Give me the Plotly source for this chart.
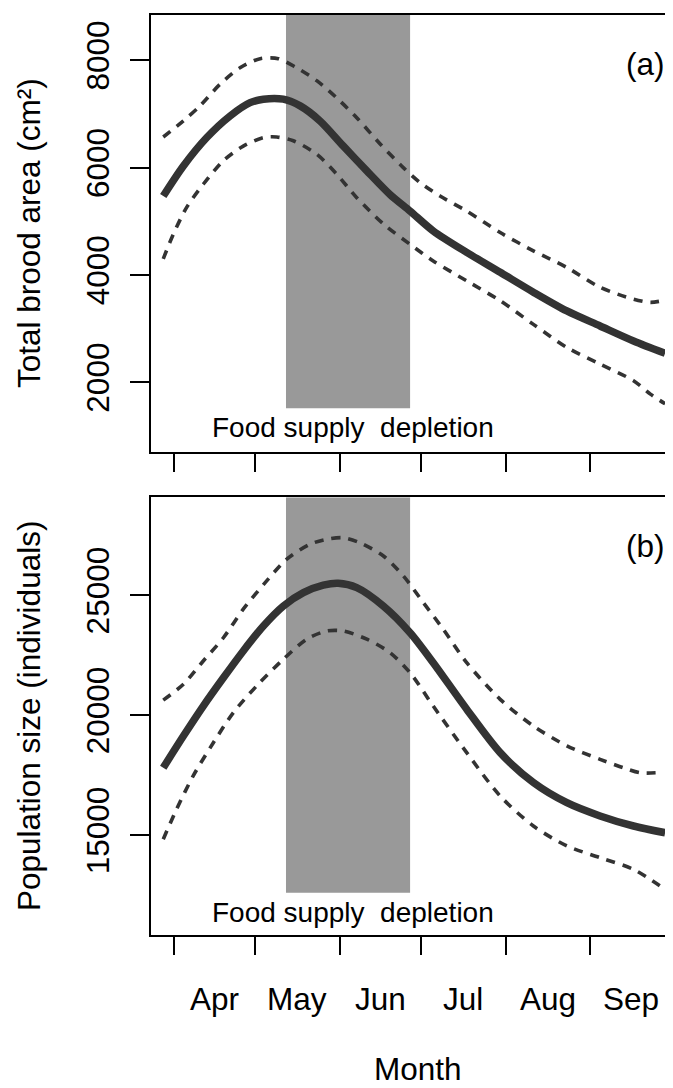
import plotly.graph_objects as go

# ---------------- data (x = day of year) ----------------
month_ticks = [91, 121, 152, 182, 213, 244, 274]          # first day of Apr..Oct
month_labels = ["Apr", "May", "Jun", "Jul", "Aug", "Sep"]
month_mid = [106, 136.5, 167, 197.5, 228.5, 259]
depletion_start = 132.3
depletion_end = 177.9

a_mean_day = [87.2, 94.6, 103.2, 111.7, 119.1, 124, 131.3, 137.5, 144.8, 153.4, 162, 170.5,
              177.9, 186.4, 198.7, 211, 223.2, 235.5, 247.7, 260, 271.6]
a_mean_val = [5470, 6030, 6560, 6960, 7210, 7275, 7275, 7150, 6870, 6400, 5940, 5500,
              5190, 4820, 4420, 4050, 3680, 3330, 3050, 2770, 2540]

a_up_day = [87.2, 94.6, 100.7, 108, 115.4, 122.8, 129.5, 136.2, 143.6, 150.9, 158.3, 166.9,
            175.4, 181.6, 188.9, 198.7, 211, 223.2, 235.5, 247.7, 260, 266.2, 271.6]
a_up_val = [6570, 6870, 7150, 7550, 7860, 8030, 8030, 7860, 7620, 7300, 6930, 6440,
            6000, 5720, 5470, 5190, 4790, 4450, 4140, 3770, 3550, 3490, 3530]

a_lo_day = [87.2, 90.9, 95.8, 101.9, 109.3, 116.6, 124, 128.9, 135, 143.6, 150.9, 158.3,
            168.1, 177.9, 186.4, 198.7, 211, 223.2, 235.5, 247.7, 260, 266.2, 271.6]
a_lo_val = [4300, 4760, 5260, 5690, 6130, 6400, 6560, 6570, 6500, 6250, 5880, 5440,
            4950, 4570, 4260, 3890, 3520, 3080, 2650, 2340, 2030, 1780, 1600]

b_mean_day = [87.2, 94.6, 101.9, 109.3, 116.6, 124, 131.3, 138.7, 146, 151.5, 158.3, 168.1,
              177.9, 186.4, 198.7, 211, 223.2, 235.5, 247.7, 260, 271.6]
b_mean_val = [17810, 19130, 20380, 21560, 22680, 23720, 24550, 25110, 25420, 25500, 25320, 24550,
              23440, 22190, 20250, 18440, 17190, 16350, 15800, 15380, 15100]

b_up_day = [87.2, 94.6, 101.9, 109.3, 116.6, 125.2, 132.5, 141.1, 148.4, 153.4, 159.5, 168.1,
            175.4, 182.8, 190.1, 198.7, 211, 223.2, 235.5, 247.7, 256.3, 262.4, 268.6]
b_up_val = [20630, 21290, 22260, 23230, 24420, 25600, 26500, 27130, 27360, 27400, 27190, 26640,
            25810, 24690, 23580, 22190, 20660, 19550, 18720, 18160, 17810, 17600, 17600]

b_lo_day = [87.2, 92.1, 98.2, 105.6, 112.9, 121.5, 131.3, 139.9, 147.3, 153.4, 162, 170.5,
            177.9, 186.4, 198.7, 211, 223.2, 235.5, 247.7, 260, 271.6]
b_lo_val = [14830, 16080, 17470, 18850, 20100, 21220, 22330, 23170, 23510, 23510, 23170, 22610,
            21770, 20380, 18440, 16630, 15380, 14550, 14060, 13570, 12740]

a_yticks = [2000, 4000, 6000, 8000]
a_yticktext = ["2000", "4000", "6000", "8000"]
b_yticks = [15000, 20000, 25000]
b_yticktext = ["15000", "20000", "25000"]
a_band_bottom = 1515
b_band_bottom = 12600

# ---------------- figure ----------------
FONT = "Liberation Sans, Arial, sans-serif"
FS = 31.5
LINE = "#333333"
fig = go.Figure()

def add_panel(xref, yref, mean_d, mean_v, up_d, up_v, lo_d, lo_v):
    common = dict(mode="lines", xaxis=xref, yaxis=yref, showlegend=False, hoverinfo="skip")
    for d, v in ((up_d, up_v), (lo_d, lo_v)):
        fig.add_trace(go.Scatter(x=d, y=v, line=dict(color=LINE, width=3.6, dash="9px,8px",
                                                     shape="spline", smoothing=0.8), **common))
    fig.add_trace(go.Scatter(x=mean_d, y=mean_v, line=dict(color=LINE, width=7.5,
                                                           shape="spline", smoothing=0.8), **common))

add_panel("x", "y", a_mean_day, a_mean_val, a_up_day, a_up_val, a_lo_day, a_lo_val)
add_panel("x2", "y2", b_mean_day, b_mean_val, b_up_day, b_up_val, b_lo_day, b_lo_val)

# depletion bands
fig.add_shape(type="rect", xref="x", yref="y", x0=depletion_start, x1=depletion_end,
              y0=a_band_bottom, y1=8843, fillcolor="#999999", line_width=0, layer="below")
fig.add_shape(type="rect", xref="x2", yref="y2", x0=depletion_start, x1=depletion_end,
              y0=b_band_bottom, y1=29087, fillcolor="#999999", line_width=0, layer="below")

xcommon = dict(range=[82.7, 274.5], tickvals=month_ticks, showticklabels=False,
               ticks="outside", ticklen=18, tickwidth=1.5, tickcolor="black",
               showline=True, linecolor="black", linewidth=1.6, mirror=True,
               showgrid=False, zeroline=False)
ycommon = dict(ticks="outside", ticklen=19, tickwidth=1.5, tickcolor="black",
               showline=True, linecolor="black", linewidth=1.6, mirror=False,
               showgrid=False, zeroline=False, tickangle=-90, ticklabelstandoff=9,
               tickfont=dict(family=FONT, size=FS, color="black"))

# page body has an 8px margin: figure is shifted so the plot area lands in place
fig.update_layout(
    width=665, height=1080,
    margin=dict(l=143, r=0, t=7, b=153),
    paper_bgcolor="white", plot_bgcolor="white",
    font=dict(family=FONT, color="black"),
    xaxis=dict(domain=[0, 1], anchor="y", **xcommon),
    yaxis=dict(domain=[0.5253, 1], anchor="x", range=[707, 8843], tickvals=a_yticks,
               ticktext=a_yticktext, **ycommon),
    xaxis2=dict(domain=[0, 1], anchor="y2", **xcommon),
    yaxis2=dict(domain=[0, 0.4758], anchor="x2", range=[10835, 29087], tickvals=b_yticks,
                ticktext=b_yticktext, **ycommon),
)

ann = []
# y-axis titles
ann.append(dict(text="Total brood area (cm²)", xref="paper", yref="paper", x=-0.2337, y=0.763,
                textangle=-90, showarrow=False, xanchor="center", yanchor="middle",
                font=dict(family=FONT, size=FS)))
ann.append(dict(text="Population size (individuals)", xref="paper", yref="paper", x=-0.2337, y=0.238,
                textangle=-90, showarrow=False, xanchor="center", yanchor="middle",
                font=dict(family=FONT, size=FS)))
# panel letters
ann.append(dict(text="(a)", xref="paper", yref="y domain", x=(667 - 151) / 522, y=1 - (64 - 14.7) / 437,
                showarrow=False, xanchor="right", yanchor="middle", font=dict(family=FONT, size=FS)))
ann.append(dict(text="(b)", xref="paper", yref="y2 domain", x=(667 - 151) / 522, y=1 - (546 - 497.3) / 437.7,
                showarrow=False, xanchor="right", yanchor="middle", font=dict(family=FONT, size=FS)))
# food supply depletion labels
for yr, yv in (("y domain", (451.7 - 427) / 437), ("y2 domain", (935 - 912.5) / 437.7)):
    ann.append(dict(text="Food supply\u00a0 depletion", xref="paper", yref=yr, x=(352.5 - 151) / 522,
                    y=yv, showarrow=False, xanchor="center", yanchor="middle",
                    font=dict(family=FONT, size=28)))
# month labels
for m, lab in zip(month_mid, month_labels):
    ann.append(dict(text=lab, xref="x2", yref="paper", x=m, y=(935 - 999) / 920,
                    showarrow=False, xanchor="center", yanchor="middle",
                    font=dict(family=FONT, size=FS)))
ann.append(dict(text="Month", xref="paper", yref="paper", x=(418 - 151) / 522, y=(935 - 1069) / 920,
                showarrow=False, xanchor="center", yanchor="middle", font=dict(family=FONT, size=FS)))
fig.update_layout(annotations=ann)

fig.write_html("out.html")
